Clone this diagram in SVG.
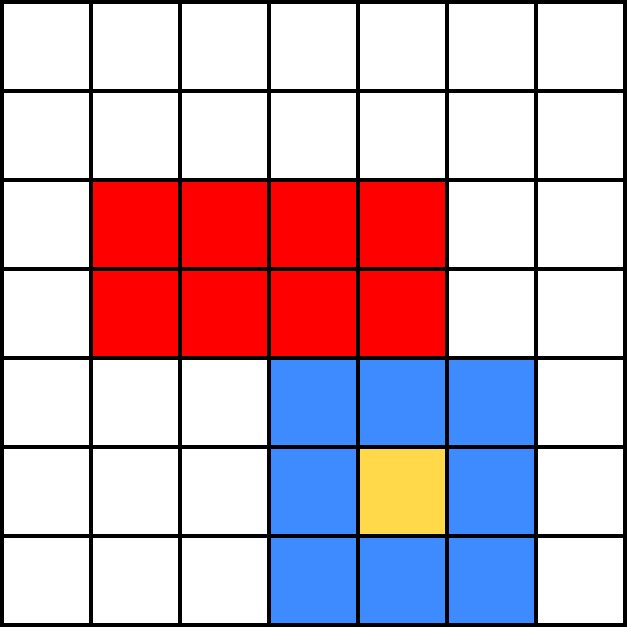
<svg xmlns="http://www.w3.org/2000/svg" width="627" height="628" viewBox="0 0 627 628">
<style>
.grid line{stroke:#000;stroke-width:4;stroke-linecap:square}
.red{fill:#ff0000}
.blue{fill:#3d8bff}
.yellow{fill:#ffd94a}
</style>
<rect x="0" y="0" width="627" height="628" fill="#fff"/>
<g id="fills">
<rect class="red" x="91" y="180" width="356" height="178"/>
<rect class="blue" x="269" y="358" width="267" height="267"/>
<rect class="yellow" x="358" y="447" width="89" height="89"/>
</g>
<g class="grid" id="grid">
<line x1="2" y1="2" x2="2" y2="625"/>
<line x1="91" y1="2" x2="91" y2="625"/>
<line x1="180" y1="2" x2="180" y2="625"/>
<line x1="269" y1="2" x2="269" y2="625"/>
<line x1="358" y1="2" x2="358" y2="625"/>
<line x1="447" y1="2" x2="447" y2="625"/>
<line x1="536" y1="2" x2="536" y2="625"/>
<line x1="625" y1="2" x2="625" y2="625"/>
<line x1="2" y1="2" x2="625" y2="2"/>
<line x1="2" y1="91" x2="625" y2="91"/>
<line x1="2" y1="180" x2="625" y2="180"/>
<line x1="2" y1="269" x2="625" y2="269"/>
<line x1="2" y1="358" x2="625" y2="358"/>
<line x1="2" y1="447" x2="625" y2="447"/>
<line x1="2" y1="536" x2="625" y2="536"/>
<line x1="2" y1="625" x2="625" y2="625"/>
</g>
</svg>
